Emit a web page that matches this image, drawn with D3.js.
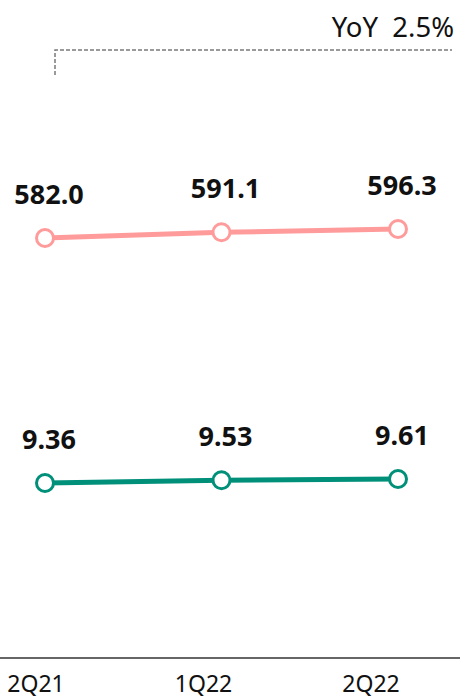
<!DOCTYPE html>
<html><head><meta charset="utf-8">
<script src="https://cdn.jsdelivr.net/npm/d3@7"></script>
<style>html,body{margin:0;padding:0;background:#fff;}svg{display:block;}</style>
</head><body>
<script>
const categories = ["2Q21", "1Q22", "2Q22"];
const topSeries = [582.0, 591.1, 596.3];
const bottomSeries = [9.36, 9.53, 9.61];
const topLabels = ["582.0", "591.1", "596.3"];
const bottomLabels = ["9.36", "9.53", "9.61"];
const yoyText = "YoY  2.5%";

const W = 460, H = 700;
const FONT = "'Noto Sans', 'Noto Sans CJK KR', sans-serif";
const svg = d3.select("body").append("svg").attr("width", W).attr("height", H);

const x = d3.scalePoint().domain(categories).range([45, 398]);
const xLab = d3.scalePoint().domain(categories).range([36, 371]);
const yTop = d3.scaleLinear().domain([582.0, 596.3]).range([238, 229]);
const yBot = d3.scaleLinear().domain([9.36, 9.61]).range([483, 479]);

// YoY annotation
svg.append("path")
  .attr("d", `M55,75 V50 H452`)
  .attr("fill", "none").attr("stroke", "#7a7a7a").attr("stroke-width", 1.5)
  .attr("stroke-dasharray", "4,2");
svg.append("text").attr("x", 454).attr("y", 37).attr("text-anchor", "end")
  .attr("font-family", FONT).attr("font-size", 27.5).attr("fill", "#111")
  .attr("xml:space", "preserve").style("white-space", "pre").text(yoyText);

function drawSeries(vals, labels, y, color) {
  const data = categories.map((c, i) => ({c, v: vals[i], l: labels[i]}));
  svg.append("path").datum(data)
    .attr("d", d3.line().x(d => x(d.c)).y(d => y(d.v)))
    .attr("fill", "none").attr("stroke", color).attr("stroke-width", 5);
  svg.selectAll(null).data(data).enter().append("circle")
    .attr("cx", d => x(d.c)).attr("cy", d => y(d.v)).attr("r", 8.5)
    .attr("fill", "#fff").attr("stroke", color).attr("stroke-width", 3);
  svg.selectAll(null).data(data).enter().append("text")
    .attr("x", d => x(d.c) + 4).attr("y", d => y(d.v) - 34)
    .attr("text-anchor", "middle").attr("font-family", FONT)
    .attr("font-size", 27).attr("font-weight", "bold").attr("fill", "#111")
    .text(d => d.l);
}
drawSeries(topSeries, topLabels, yTop, "#ff9b9b");
drawSeries(bottomSeries, bottomLabels, yBot, "#00907a");

// axis
svg.append("line").attr("x1", 0).attr("x2", W).attr("y1", 658).attr("y2", 658)
  .attr("stroke", "#666").attr("stroke-width", 2);
svg.selectAll(null).data(categories).enter().append("text")
  .attr("x", d => xLab(d)).attr("y", 692).attr("text-anchor", "middle")
  .attr("font-family", FONT).attr("font-size", 23).attr("fill", "#111")
  .text(d => d);
</script>
</body></html>
